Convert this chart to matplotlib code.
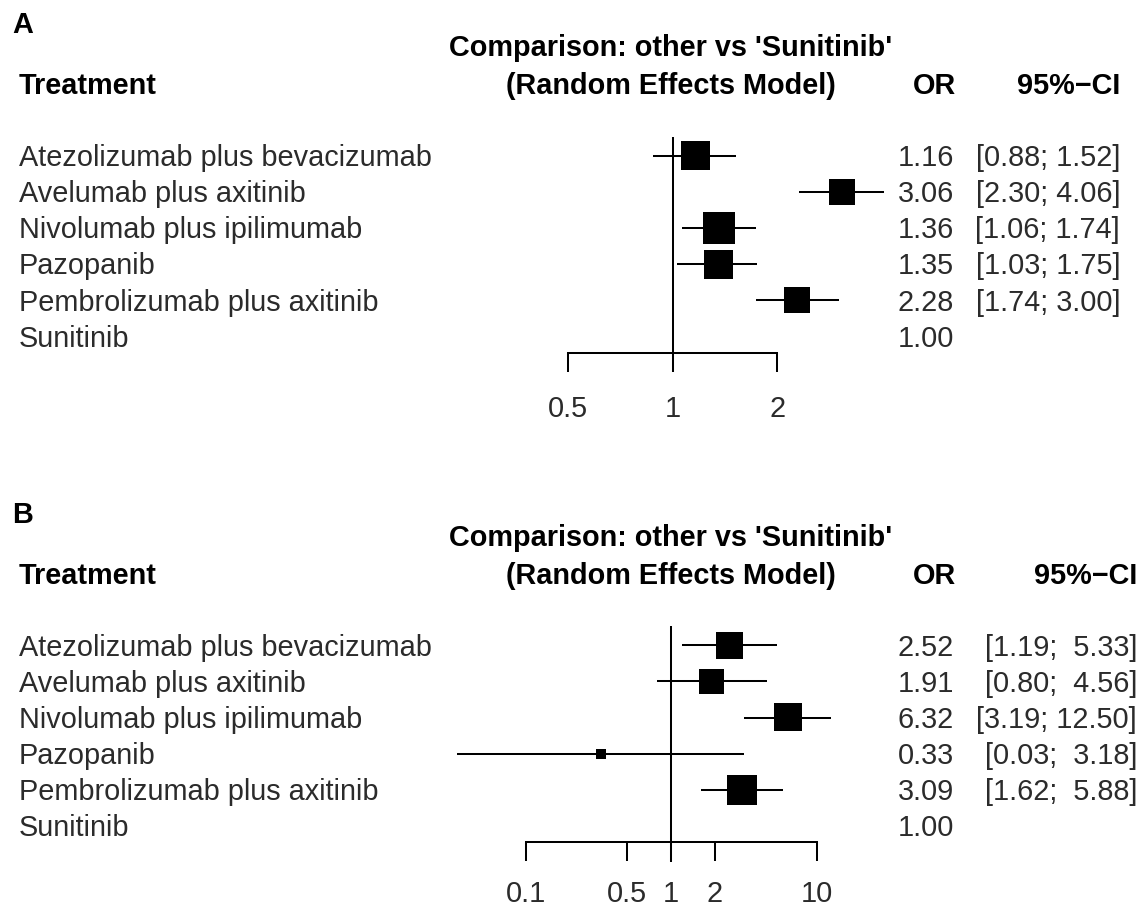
import math

import matplotlib
matplotlib.use("Agg")
import matplotlib.pyplot as plt

# data
treatments = [
    "Atezolizumab plus bevacizumab",
    "Avelumab plus axitinib",
    "Nivolumab plus ipilimumab",
    "Pazopanib",
    "Pembrolizumab plus axitinib",
    "Sunitinib",
]
or_a = [1.16, 3.06, 1.36, 1.35, 2.28, 1.00]
lo_a = [0.88, 2.30, 1.06, 1.03, 1.74]
hi_a = [1.52, 4.06, 1.74, 1.75, 3.00]
ticks_a = [0.5, 1, 2]

or_b = [2.52, 1.91, 6.32, 0.33, 3.09, 1.00]
lo_b = [1.19, 0.80, 3.19, 0.034, 1.62]
hi_b = [5.33, 4.56, 12.50, 3.18, 5.88]
ticks_b = [0.1, 0.5, 1, 2, 10]

# box sides in pixels (style only)
box_a = [29, 26, 32, 29, 26]
box_b = [27, 25, 28, 10, 30]

W, H = 1145, 910
FONT = "Liberation Sans"
FS = 20.8
TXT = "#2b2b2b"
LW = 1.45
ROW_STEP = 36.1

plt.rcParams["font.family"] = [FONT, "DejaVu Sans"]

fig = plt.figure(figsize=(W / 100, H / 100), dpi=100)
bg = fig.add_axes([0, 0, 1, 1])
bg.set_xlim(0, W)
bg.set_ylim(H, 0)
bg.axis("off")


def fmt_ci(lo, hi):
    w_lo = max(len(f"{v:.2f}") for v in lo)
    w_hi = max(len(f"{v:.2f}") for v in hi)
    return [f"[{a:{w_lo}.2f}; {b:{w_hi}.2f}]" for a, b in zip(lo, hi)]


def panel(letter, dy, or_vals, lo, hi, ticks, boxes, x_one, ppd, xlim, ci_right, tick_pad):
    row0 = 155.7 + dy
    to_row = lambda py: (py - row0) / ROW_STEP

    # header text
    bg.text(12, 33 + dy, letter, fontsize=FS, fontweight="bold", color="black")
    bg.text(671, 56.5 + dy, "Comparison: other vs 'Sunitinib'", fontsize=FS,
            fontweight="bold", ha="center", color="black")
    bg.text(671, 94 + dy, "(Random Effects Model)", fontsize=FS,
            fontweight="bold", ha="center", color="black")
    bg.text(19, 94 + dy, "Treatment", fontsize=FS, fontweight="bold", color="black")
    bg.text(956, 94 + dy, "OR", fontsize=FS, fontweight="bold", ha="right", color="black")
    bg.text(ci_right, 94 + dy, "95%\u2212CI", fontsize=FS, fontweight="bold",
            ha="right", color="black")

    ci_txt = fmt_ci(lo, hi)
    for i, name in enumerate(treatments):
        y = row0 + i * ROW_STEP + 10.5
        bg.text(19, y, name, fontsize=FS, color=TXT)
        bg.text(954, y, f"{or_vals[i]:.2f}", fontsize=FS, ha="right", color=TXT)
        if i < len(ci_txt):
            bg.text(ci_right, y, ci_txt[i], fontsize=FS, ha="right", color=TXT)

    # forest axes placed so that x=1 and the log scale land where they should
    left = x_one + ppd * math.log10(xlim[0])
    right = x_one + ppd * math.log10(xlim[1])
    top, bot = 115 + dy, 440 + dy
    ax = fig.add_axes([left / W, 1 - bot / H, (right - left) / W, (bot - top) / H])
    ax.set_xscale("log")
    ax.set_xlim(*xlim)
    ax.set_ylim(to_row(bot), to_row(top))
    ax.patch.set_alpha(0)

    n = len(lo)
    rows = list(range(n))
    ax.hlines(rows, lo, hi, color="black", lw=LW, zorder=2)
    ax.scatter(or_vals[:n], rows, marker="s", color="black",
               s=[(b * 0.72) ** 2 for b in boxes], linewidths=0, zorder=3)
    ax.vlines(1, to_row(136.7 + dy), to_row(372 + dy), color="black", lw=LW, zorder=1)

    for s in ["top", "left", "right"]:
        ax.spines[s].set_visible(False)
    ax.spines["bottom"].set_position(("data", to_row(352.7 + dy)))
    ax.spines["bottom"].set_bounds(ticks[0], ticks[-1])
    ax.spines["bottom"].set_linewidth(LW)
    ax.set_yticks([])
    ax.set_xticks(ticks)
    ax.set_xticklabels([f"{t:g}" for t in ticks])
    ax.minorticks_off()
    ax.tick_params(axis="x", direction="out", length=13.7, width=LW,
                   pad=tick_pad, labelsize=FS, labelcolor=TXT)


panel("A", 0, or_a, lo_a, hi_a, ticks_a, box_a, 672.7, 348, (0.3, 6), 1120, 17)
panel("B", 489.6, or_b, lo_b, hi_b, ticks_b, box_b, 671, 145.5, (0.02, 20), 1137, 13.5)

fig.savefig("out.png", dpi=100)
